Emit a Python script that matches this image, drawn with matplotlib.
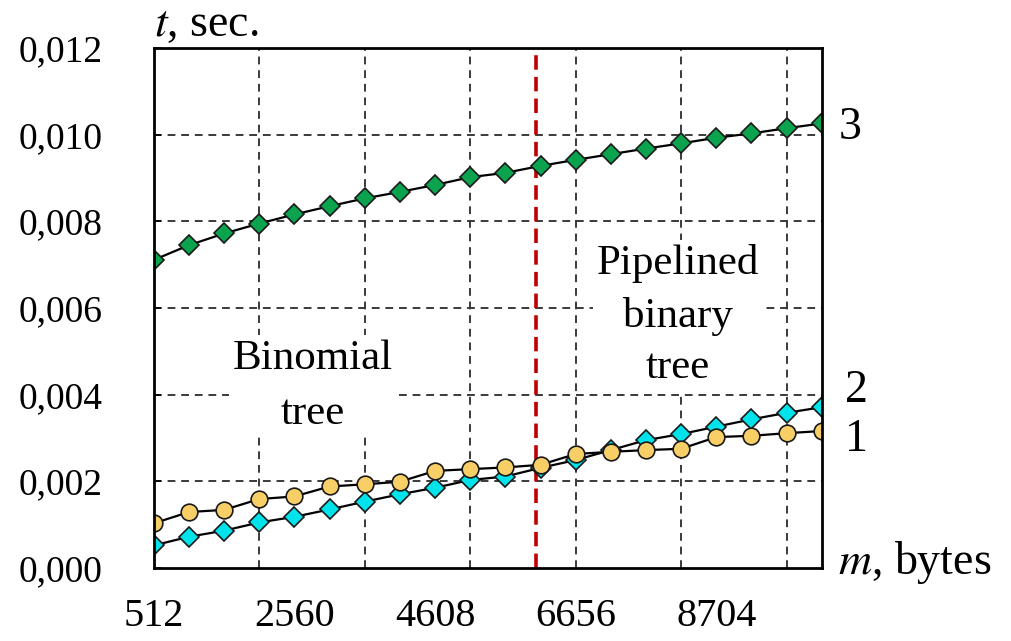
import matplotlib
matplotlib.use("Agg")
from matplotlib import pyplot as plt

# message size, bytes (20 points, step 512)
m_bytes = [512, 1024, 1536, 2048, 2560, 3072, 3584, 4096, 4608, 5120,
           5632, 6144, 6656, 7168, 7680, 8192, 8704, 9216, 9728, 10240]

# 1 - yellow circles
t_series1 = [0.00103, 0.00129, 0.00134, 0.00159, 0.00165, 0.00188, 0.00193, 0.00199, 0.00224, 0.00228,
             0.00232, 0.00238, 0.00263, 0.00268, 0.00272, 0.00275, 0.00302, 0.00305, 0.00311, 0.00316]
# 2 - cyan diamonds
t_series2 = [0.00052, 0.00072, 0.00086, 0.00105, 0.00118, 0.00135, 0.00153, 0.00170, 0.00185, 0.00203,
             0.00211, 0.00231, 0.00249, 0.00272, 0.00295, 0.00309, 0.00326, 0.00343, 0.00358, 0.00371]
# 3 - green diamonds
t_series3 = [0.00711, 0.00745, 0.00772, 0.00795, 0.00816, 0.00835, 0.00853, 0.00868, 0.00884, 0.00902,
             0.00912, 0.00928, 0.00942, 0.00955, 0.00968, 0.00980, 0.00993, 0.01003, 0.01015, 0.01026]

y_ticks = [0.000, 0.002, 0.004, 0.006, 0.008, 0.010, 0.012]
y_tick_labels = ["0,000", "0,002", "0,004", "0,006", "0,008", "0,010", "0,012"]
x_tick_labels = ["512", "2560", "4608", "6656", "8704"]
split_m = 6080  # boundary between algorithms

plt.rcParams["font.family"] = ["Liberation Serif", "DejaVu Serif"]

fig = plt.figure(figsize=(10.12, 6.41), dpi=100)
ax = fig.add_axes([0.152, 0.114, 0.660, 0.811])

# grid
grid_kw = dict(color="#3a3a3a", linestyle=(0, (4, 3)), linewidth=1.4, zorder=0)
for yv in y_ticks[1:-1]:
    ax.axhline(yv, **grid_kw)
for xv in m_bytes[3::3]:
    ax.axvline(xv, **grid_kw)

ax.axvline(split_m, color="#c00000", linestyle=(0, (4, 2)), linewidth=2.6, zorder=1)

ax.plot(m_bytes, t_series3, color="black", linewidth=1.6, marker="D", markersize=10.5,
        markerfacecolor="#0ba34e", markeredgecolor="#1a1a1a", markeredgewidth=1.2, zorder=5)
ax.plot(m_bytes, t_series2, color="black", linewidth=1.6, marker="D", markersize=10.5,
        markerfacecolor="#00e3ea", markeredgecolor="#1a1a1a", markeredgewidth=1.2, zorder=4)
ax.plot(m_bytes, t_series1, color="black", linewidth=1.6, marker="o", markersize=12,
        markerfacecolor="#f7cf66", markeredgecolor="#1a1a1a", markeredgewidth=1.2, zorder=6)

ax.set_xlim(m_bytes[0], m_bytes[-1])
ax.set_ylim(y_ticks[0], y_ticks[-1])

ax.set_yticks(y_ticks)
ax.set_yticklabels(y_tick_labels, fontsize=27)
ax.tick_params(axis="y", direction="in", length=5, width=1.2, pad=37)
ax.set_xticks(m_bytes[0:17:4])
ax.set_xticklabels(x_tick_labels, fontsize=29)
ax.tick_params(axis="x", length=0, pad=22)

for sp in ax.spines.values():
    sp.set_linewidth(2)
    sp.set_color("black")
    sp.set_zorder(7)

box = dict(facecolor="white", edgecolor="none", pad=3)
ax.text(2830, 0.00420, "Binomial\ntree", fontsize=31, ha="center", va="center",
        linespacing=1.55, bbox=box, zorder=2)
ax.text(8150, 0.00582, "Pipelined\nbinary\ntree", fontsize=31, ha="center", va="center",
        linespacing=1.45, bbox=box, zorder=2)

ytr = ax.get_yaxis_transform()
ax.text(1.025, 0.01015, "3", transform=ytr, fontsize=33, ha="left", va="center")
ax.text(1.035, 0.00409, "2", transform=ytr, fontsize=33, ha="left", va="center")
ax.text(1.035, 0.00295, "1", transform=ytr, fontsize=33, ha="left", va="center")

fig.text(0.152, 0.962, r"$t$, sec.", fontsize=33, ha="left", va="center",
         math_fontfamily="stix")
fig.text(0.828, 0.122, r"$m$, bytes", fontsize=33, ha="left", va="center",
         math_fontfamily="stix")

fig.savefig("out.png", dpi=100)
